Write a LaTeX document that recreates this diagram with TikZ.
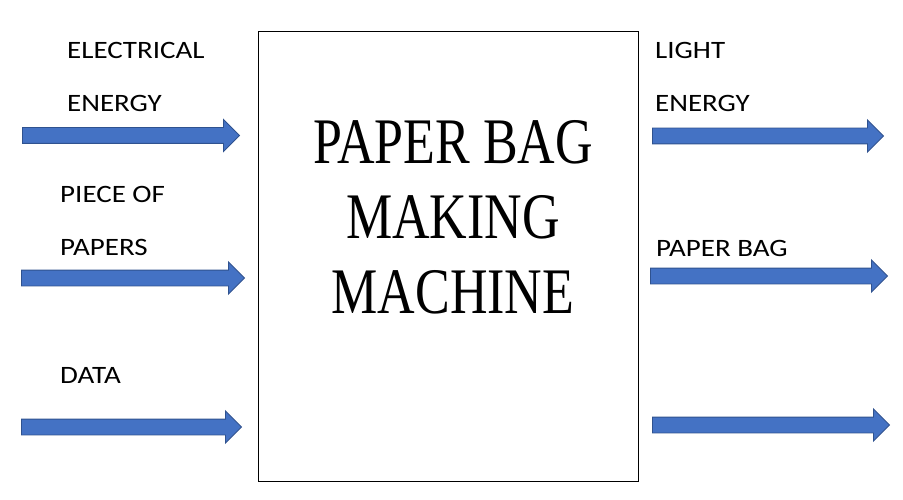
\documentclass[tikz,border=0pt]{standalone}
\usepackage{fontspec}
\usepackage{tikz}
\usetikzlibrary{shapes.arrows, positioning}

\newfontfamily\labelfont[FakeStretch=1.16]{Carlito}
\newfontfamily\titlefont[FakeStretch=0.8]{Liberation Serif}
\definecolor{flowfill}{HTML}{4472C4}
\definecolor{flowline}{HTML}{2F528F}

\begin{document}
\begin{tikzpicture}[x=1pt, y=-1pt,
  every node/.style={inner sep=0pt},
  lbl/.style={anchor=base west, align=left, font={\labelfont\fontsize{25}{53}\selectfont}},
  flow/.style={single arrow, draw=flowline, fill=flowfill, line width=0.9pt, anchor=west,
               inner xsep=0pt, inner ysep=7.5pt, single arrow head extend=8pt, single arrow head indent=0pt},
  machinebox/.style={draw, line width=1pt, minimum width=380pt, minimum height=449pt}]

                                \useasboundingbox (0,0) rectangle (903,500);

                                % the machine
                                \node (machine) [machinebox] at (448,256.5) {};
                                \node (title) [anchor=base, align=center, font={\titlefont\fontsize{65}{75}\selectfont}] at (453,313) {PAPER BAG\\MAKING\\MACHINE};

                                % inputs (base = last line)
                                \node (elec) [lbl] at (67,112) {ELECTRICAL\\ENERGY};
                                \node (piece) [lbl] at (60,255) {PIECE OF\\PAPERS};
                                \node (data) [lbl] at (60,383) {DATA};

                                \node (in1) [flow, minimum height=217pt] at (22,135.5) {};
                                \node (in2) [flow, minimum height=223pt] at (21,278) {};
                                \node (in3) [flow, minimum height=220pt] at (21,427) {};

                                % outputs
                                \node (light) [lbl] at (655,112) {LIGHT\\ENERGY};
                                \node (bag) [lbl] at (656,256) {PAPER BAG};

                                \node (out1) [flow, minimum height=231pt] at (652,136) {};
                                \node (out2) [flow, minimum height=237pt] at (650,276) {};
                                \node (out3) [flow, minimum height=237pt] at (652,425) {};
                        \end{tikzpicture}
\end{document}
